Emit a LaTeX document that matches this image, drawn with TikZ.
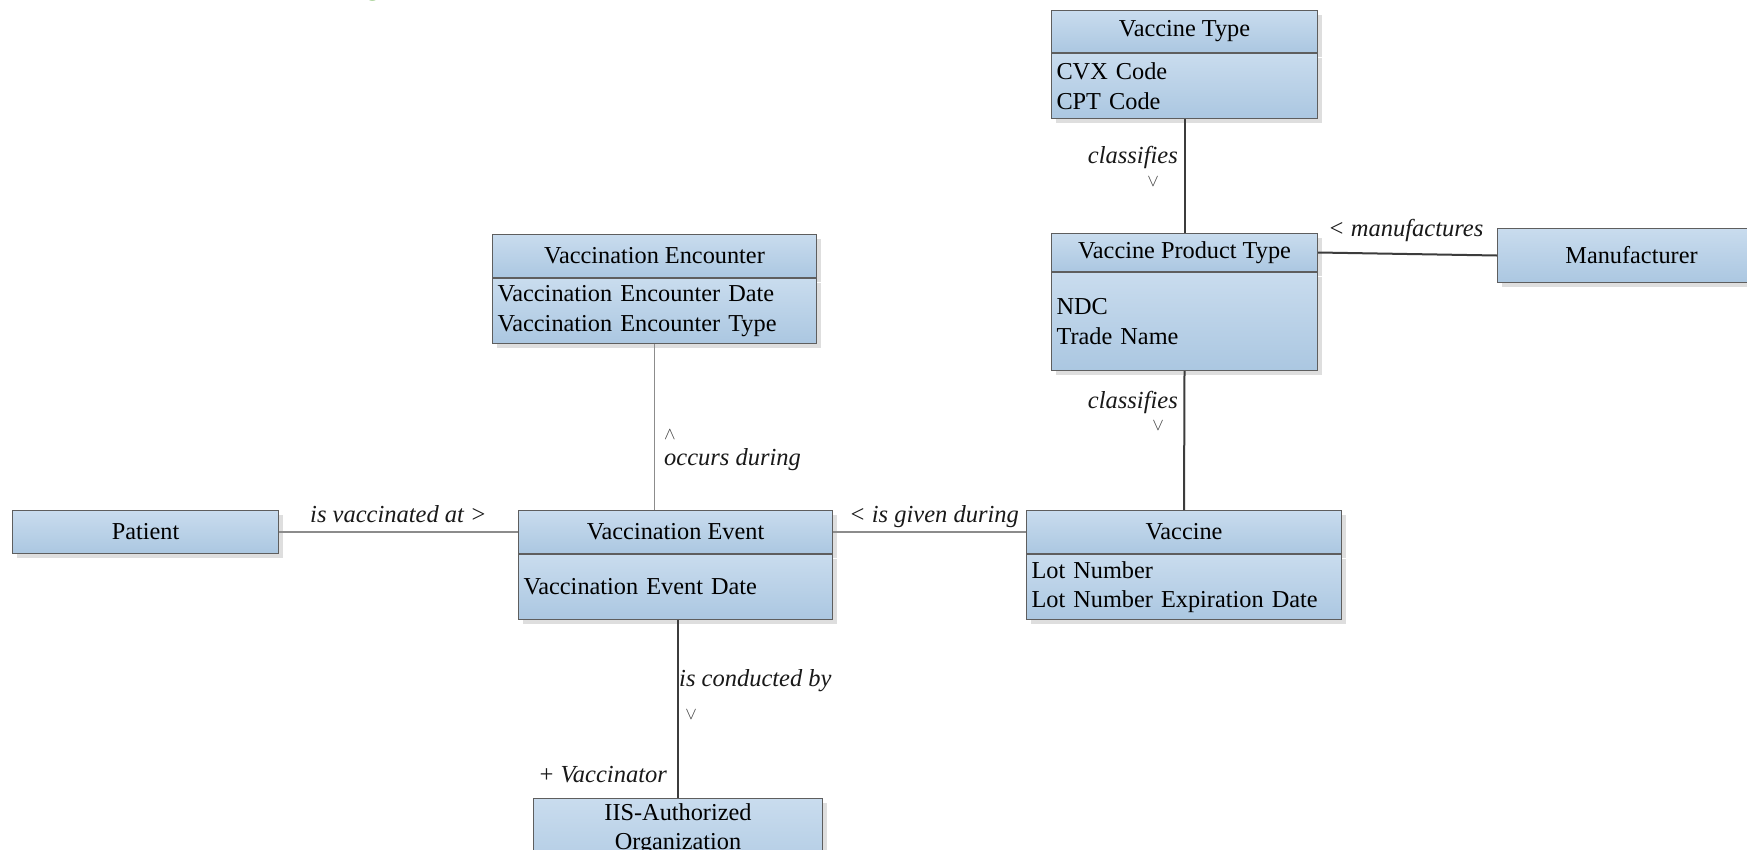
\documentclass[tikz,border=0pt]{standalone}
\usepackage{fontspec}
\setmainfont{Liberation Serif}
\newfontfamily\titlefont{Liberation Sans}
\usetikzlibrary{shadows}
\definecolor{boxtop}{HTML}{C9DCEE}
\definecolor{boxbot}{HTML}{ABC7E1}
\definecolor{boxline}{HTML}{5E5E5E}
\definecolor{thinline}{HTML}{8C8C8C}
\definecolor{darkline}{HTML}{3C3C3C}
\definecolor{titlegreen}{HTML}{5AA93A}
\tikzset{
  x=1pt, y=-1pt,
  basebox/.style={draw=boxline, line width=1pt, top color=boxtop, bottom color=boxbot,
    anchor=north west, inner ysep=0pt, inner xsep=5pt,
    font=\fontsize{24.3}{29.5}\selectfont,
    drop shadow={shadow xshift=4pt, shadow yshift=-4pt, fill=black!13, opacity=1}},
  hdrbox/.style 2 args={basebox, minimum width=#1, minimum height=#2, align=center},
  bodybox/.style n args={3}{basebox, minimum width=#1, text width=#2, minimum height=#3, align=left},
  lbl/.style={font=\fontsize{24.5}{29.5}\selectfont\itshape, inner sep=0pt, text=black!90},
  arr/.style={font=\fontsize{17}{17}\selectfont, inner sep=0pt, text=darkline},
  thinconn/.style={draw=thinline, line width=1.2pt},
  darkconn/.style={draw=darkline, line width=2pt},
}
\begin{document}
\begin{tikzpicture}
\useasboundingbox (0,0) rectangle (1747,849);
\fill[white] (0,0) rectangle (1747,849);

% cut-off title
\node[font=\titlefont\fontsize{36}{36}\selectfont, text=titlegreen, anchor=base, inner sep=0pt] (ttl) at (373,-6.5) {g};

% Vaccine Type
\node[hdrbox={266pt}{42pt}] (vth) at (1051,10) {Vaccine Type};
\node[bodybox={266pt}{256pt}{65pt}] (vtb) at (vth.south west) {CVX Code\\CPT Code};

% Vaccine Product Type
\node[hdrbox={266pt}{38pt}] (vpth) at (1051,233) {Vaccine Product Type};
\node[bodybox={266pt}{256pt}{98pt}] (vptb) at (vpth.south west) {NDC\\Trade Name};

% Manufacturer
\node[hdrbox={268pt}{54pt}] (man) at (1497,228) {Manufacturer};

% Vaccination Encounter
\node[hdrbox={324pt}{43pt}] (vench) at (492,234) {Vaccination Encounter};
\node[bodybox={324pt}{314pt}{65pt}] (vencb) at (vench.south west) {Vaccination Encounter Date\\Vaccination Encounter Type};

% Patient
\node[hdrbox={266pt}{43pt}] (pat) at (12,510) {Patient};

% Vaccination Event
\node[hdrbox={314pt}{43pt}] (veh) at (518,510) {Vaccination Event};
\node[bodybox={314pt}{304pt}{65pt}] (veb) at (veh.south west) {Vaccination Event Date};

% Vaccine
\node[hdrbox={315pt}{43pt}] (vach) at (1026,510) {Vaccine};
\node[bodybox={315pt}{305pt}{65pt}] (vacb) at (vach.south west) {Lot Number\\Lot Number Expiration Date};

% IIS-Authorized Organization
\node[basebox, minimum width=289pt, minimum height=92pt, text width=279pt, align=center, anchor=north west, text depth=65pt] (iis) at (533,798) {IIS-Authorized\\Organization};

% connectors
\draw[darkconn] (vtb.south) -- (vpth.north);
\draw[darkconn] (vpth.east) -- (man.west);
\draw[darkconn] (vptb.south) -- (vach.north);
\draw[thinconn] (vencb.south) -- (vencb.south |- veh.north);
\draw[thinconn] (pat.east) -- (veh.west);
\draw[thinconn] (veh.east) -- (vach.west);
\draw[darkconn] (iis.north |- veb.south) -- (iis.north);

% labels
\node[lbl, anchor=east] (l1) at (1178,157) {classifies};
\node[arr] (a1) at (1153,182) {$\vee$};
\node[lbl, anchor=east] (l3) at (1178,402) {classifies};
\node[arr] (a3) at (1158,426) {$\vee$};
\node[lbl, anchor=west] (l2) at (1328,230) {< manufactures};
\node[arr] (a4) at (670,435) {$\wedge$};
\node[lbl, anchor=west] (l4) at (664,460) {occurs during};
\node[lbl, anchor=west] (l5) at (310,514) {is vaccinated at >};
\node[lbl, anchor=west] (l6) at (849,517) {< is given during};
\node[lbl, anchor=west] (l7) at (679,681) {is conducted by};
\node[arr] (a7) at (691,715) {$\vee$};
\node[lbl, anchor=east] (l8) at (667,775) {+ Vaccinator};
\end{tikzpicture}
\end{document}
